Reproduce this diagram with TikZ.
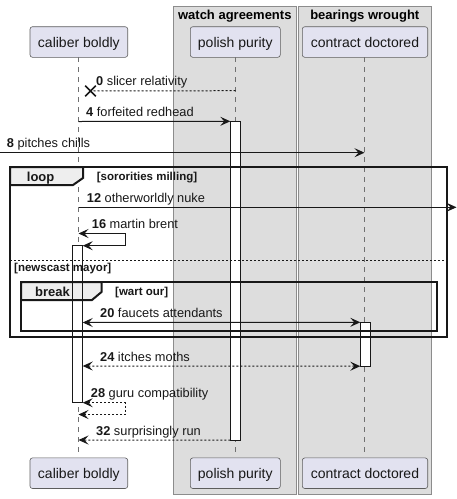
\documentclass[tikz,border=0pt]{standalone}
\usepackage{fontspec}
\setmainfont{Liberation Sans}
\usetikzlibrary{arrows.meta,shapes.misc}
\definecolor{partfill}{HTML}{E2E2F0}
\definecolor{ink}{HTML}{181818}
\definecolor{groupfill}{HTML}{DDDDDD}
\definecolor{groupdraw}{HTML}{8C8C8C}
\definecolor{tabfill}{HTML}{EEEEEE}
\definecolor{lifec}{HTML}{707070}
\tikzset{
  part/.style={draw=ink!70, fill=partfill, rounded corners=2.5pt, line width=0.6pt,
    minimum height=30.6pt, inner sep=0pt, text height=11pt, text depth=0pt,
    font=\fontsize{14}{16}\selectfont, text=ink},
  groupbox/.style={draw=groupdraw, fill=groupfill, line width=0.8pt},
  grouptitle/.style={font=\fontsize{13}{15}\selectfont\bfseries, anchor=base, inner sep=0pt},
  lifeline/.style={draw=lifec, dash pattern=on 5pt off 5pt, line width=0.7pt},
  act/.style={fill=white, draw=none, inner sep=0pt, minimum width=10pt},
  actline/.style={draw=ink, line width=1pt},
  msg/.style={draw=ink, line width=1pt, -{Stealth[length=10pt,width=9pt,inset=4pt]}},
  bimsg/.style={draw=ink, line width=1pt, {Stealth[length=10pt,width=9pt,inset=4pt]}-{Stealth[length=10pt,width=9pt,inset=4pt]}},
  ret/.style={dash pattern=on 2pt off 2pt},
  lbl/.style={anchor=base west, inner sep=0pt, font=\fontsize{12.8}{15}\selectfont, text=ink},
  frame/.style={draw=ink, line width=2pt},
  tab/.style={draw=ink, line width=2pt, fill=tabfill},
  framelbl/.style={anchor=base west, inner sep=0pt, font=\fontsize{13}{15}\selectfont\bfseries, text=ink},
  guard/.style={anchor=base west, inner sep=0pt, font=\fontsize{11.5}{13}\selectfont\bfseries, text=ink},
}
\begin{document}
\begin{tikzpicture}[x=1pt,y=-1pt]
\useasboundingbox (0,0) rectangle (457,499);
% group boxes
\path[groupbox] (173.3,6) rectangle (296.3,494.3);
\path[groupbox] (298,6) rectangle (431.7,494.3);
\node[grouptitle] (gW) at (234.8,19) {watch agreements};
\node[grouptitle] (gB) at (364.8,19) {bearings wrought};
% lifelines
\coordinate (lC1) at (78.5,57.3); \coordinate (lC2) at (78.5,457);
\coordinate (lP1) at (235.5,57.3); \coordinate (lP2) at (235.5,457);
\coordinate (lD1) at (364.5,57.3); \coordinate (lD2) at (364.5,457);
\draw[lifeline] (lC1) -- (lC2);
\draw[lifeline] (lP1) -- (lP2);
\draw[lifeline] (lD1) -- (lD2);
% participants
\node[part, minimum width=97.7pt] (cT) at (78.85,42) {caliber boldly};
\node[part, minimum width=90pt] (pT) at (235.3,42) {polish purity};
\node[part, minimum width=125.4pt] (dT) at (365,42) {contract doctored};
\node[part, minimum width=97.7pt] (cB) at (78.85,473.2) {caliber boldly};
\node[part, minimum width=90pt] (pB) at (235.3,473.2) {polish purity};
\node[part, minimum width=125.4pt] (dB) at (365,473.2) {contract doctored};
% activation fills
\node[act, minimum height=318.5pt] (aP) at (235.5,280.75) {};
\node[act, minimum height=157pt] (aC) at (77.7,324.2) {};
\node[act, minimum height=43.5pt] (aD) at (365.5,344.25) {};
% frames
\draw[frame] (10,167) rectangle (447,337);
\draw[tab] (10,167) -- (83,167) -- (83,178) -- (73,185) -- (10,185) -- cycle;
\node[framelbl] (fLoop) at (26.7,181.5) {loop};
\node[guard] (gLoop) at (96.7,180) {[sororities milling]};
\draw[ink, line width=1pt, dash pattern=on 2pt off 2pt] (10,260.5) -- (447,260.5);
\node[guard] (gElse) at (14,271.5) {[newscast mayor]};
\draw[frame] (21,282) rectangle (437,331);
\draw[tab] (21,282) -- (101.5,282) -- (101.5,292) -- (92,300) -- (21,300) -- cycle;
\node[framelbl] (fBreak) at (35,296) {break};
\node[guard] (gBreak) at (115,295) {[wart our]};
% activation outlines
\draw[actline] (aP.north west) rectangle (aP.south east);
\draw[actline] (aC.north west) rectangle (aC.south east);
\draw[actline] (aD.north west) rectangle (aD.south east);
% message 0
\node[cross out, draw=ink, line width=1.6pt, minimum size=9pt, inner sep=0pt] (x0) at (90.5,91) {};
\coordinate (m0s) at (235.5,90.7);
\draw[ink, line width=1pt, ret] (m0s) -- (x0.center);
\node[lbl] (t0) at (96,85.5) {\textbf{0} slicer relativity};
% message 4
\coordinate (m4s) at (78.5,121.5);
\draw[msg] (m4s) -- (aP.north west);
\node[lbl] (t4) at (86,116.5) {\textbf{4} forfeited redhead};
% message 8
\coordinate (m8s) at (0,152.7); \coordinate (m8e) at (364.5,152.7);
\draw[msg] (m8s) -- (m8e);
\node[lbl] (t8) at (6.7,147.5) {\textbf{8} pitches chills};
% message 12
\coordinate (m12s) at (78.5,207.3); \coordinate (m12e) at (456.5,207.3);
\draw[msg] (m12s) -- (m12e);
\node[lbl] (t12) at (86.7,202.5) {\textbf{12} otherworldly nuke};
% message 16
\coordinate (m16a) at (78.5,233.5); \coordinate (m16b) at (125.3,233.5);
\coordinate (m16c) at (125.3,245.7); \coordinate (m16d) at (82.7,245.7);
\draw[bimsg] (m16a) -- (m16b) -- (m16c) -- (m16d);
\node[lbl] (t16) at (91.7,228.5) {\textbf{16} martin brent};
% message 20
\coordinate (m20s) at (82.7,322.5);
\draw[bimsg] (m20s) -- (aD.north west);
\node[lbl] (t20) at (100,317.5) {\textbf{20} faucets attendants};
% message 24
\coordinate (m24s) at (82.7,366);
\draw[bimsg, ret] (m24s) -- (aD.south west);
\node[lbl] (t24) at (100,361) {\textbf{24} itches moths};
% message 28
\coordinate (m28a) at (82.7,402.7); \coordinate (m28b) at (125.3,402.7);
\coordinate (m28c) at (125.3,414.5); \coordinate (m28d) at (78.5,414.5);
\draw[bimsg, ret] (m28a) -- (m28b) -- (m28c) -- (m28d);
\node[lbl] (t28) at (90.7,397.7) {\textbf{28} guru compatibility};
% message 32
\coordinate (m32e) at (78.5,440);
\draw[msg, ret] (aP.south west) -- (m32e);
\node[lbl] (t32) at (96,435) {\textbf{32} surprisingly run};
\end{tikzpicture}
\end{document}
